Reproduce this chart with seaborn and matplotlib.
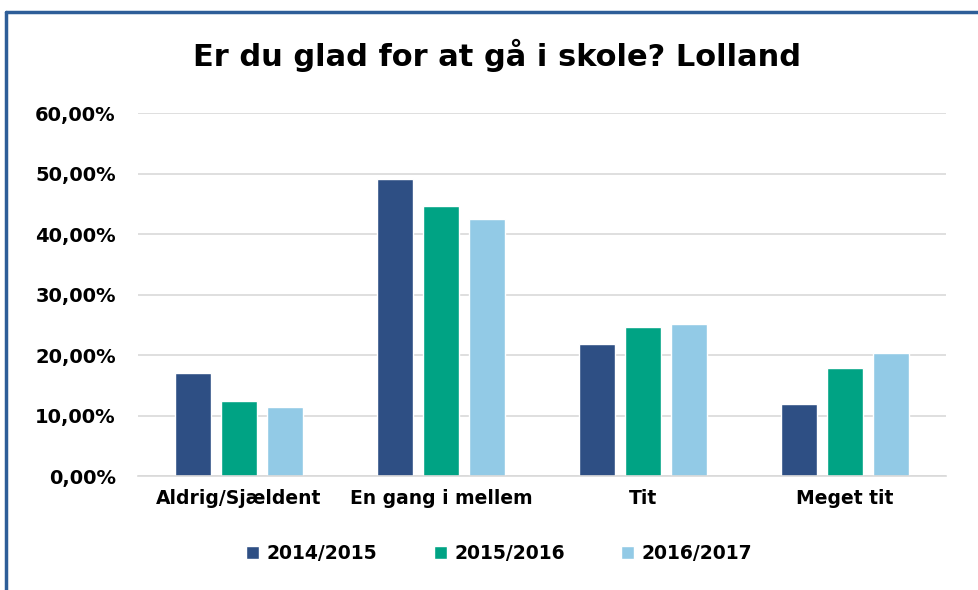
import pandas as pd
import seaborn as sns
import matplotlib.pyplot as plt
from matplotlib.lines import Line2D
from matplotlib.ticker import FuncFormatter

categories = ["Aldrig/Sjældent", "En gang i mellem", "Tit", "Meget tit"]
years = ["2014/2015", "2015/2016", "2016/2017"]
v_1415 = [17.1, 49.1, 21.8, 11.9]
v_1516 = [12.5, 44.6, 24.7, 17.8]
v_1617 = [11.5, 42.5, 25.1, 20.4]

colors = ["#2E4F84", "#00A384", "#92CAE6"]

sns.set_theme(style="white")
plt.rcParams['font.family'] = ['DejaVu Sans']
plt.rcParams['text.color'] = 'black'
plt.rcParams['xtick.color'] = 'black'
plt.rcParams['ytick.color'] = 'black'

rows = []
for yr, vals in zip(years, [v_1415, v_1516, v_1617]):
    for c, v in zip(categories, vals):
        rows.append({"Kategori": c, "År": yr, "Andel": v / 100})
df = pd.DataFrame(rows)

fig = plt.figure(figsize=(9.79, 5.9), dpi=100)
ax = fig.add_axes([0.141, 0.193, 0.825, 0.615])

sns.barplot(data=df, x="Kategori", y="Andel", hue="År", order=categories,
            hue_order=years, palette=colors, width=0.683, gap=0.22,
            saturation=1, ax=ax)

ax.set_ylim(0, 0.6)
ax.set_yticks([i / 10 for i in range(7)])
ax.yaxis.set_major_formatter(FuncFormatter(lambda v, p: f"{v*100:.2f}%".replace(".", ",")))
ax.yaxis.grid(True, color="#D9D9D9", linewidth=1.2)
ax.set_axisbelow(True)
for s in ["top", "right", "left"]:
    ax.spines[s].set_visible(False)
ax.spines["bottom"].set_color("#D9D9D9")
ax.spines["bottom"].set_linewidth(1.2)
ax.set_xlabel("")
ax.set_ylabel("")
ax.tick_params(axis="y", labelsize=14, pad=16, length=0)
ax.tick_params(axis="x", labelsize=13.5, pad=9, length=0)
for t in ax.get_yticklabels() + ax.get_xticklabels():
    t.set_fontweight("bold")

fig.suptitle("Er du glad for at gå i skole? Lolland", x=0.508, y=0.935, fontsize=22,
             fontweight="bold")

ax.legend(loc="upper center", bbox_to_anchor=(0.51, 0.107), bbox_transform=fig.transFigure,
          ncol=3, frameon=False,
          prop={"size": 13.5, "weight": "bold"}, handlelength=0.7, handleheight=0.7,
          columnspacing=3.0, handletextpad=0.4)

border = "#2E5E98"
fig.add_artist(Line2D([0.006, 1.0], [1 - 12 / 590, 1 - 12 / 590], color=border, lw=2.5,
                      transform=fig.transFigure))
fig.add_artist(Line2D([6 / 979, 6 / 979], [0, 1 - 12 / 590], color=border, lw=2.5,
                      transform=fig.transFigure))

plt.savefig("out.png", dpi=100)
